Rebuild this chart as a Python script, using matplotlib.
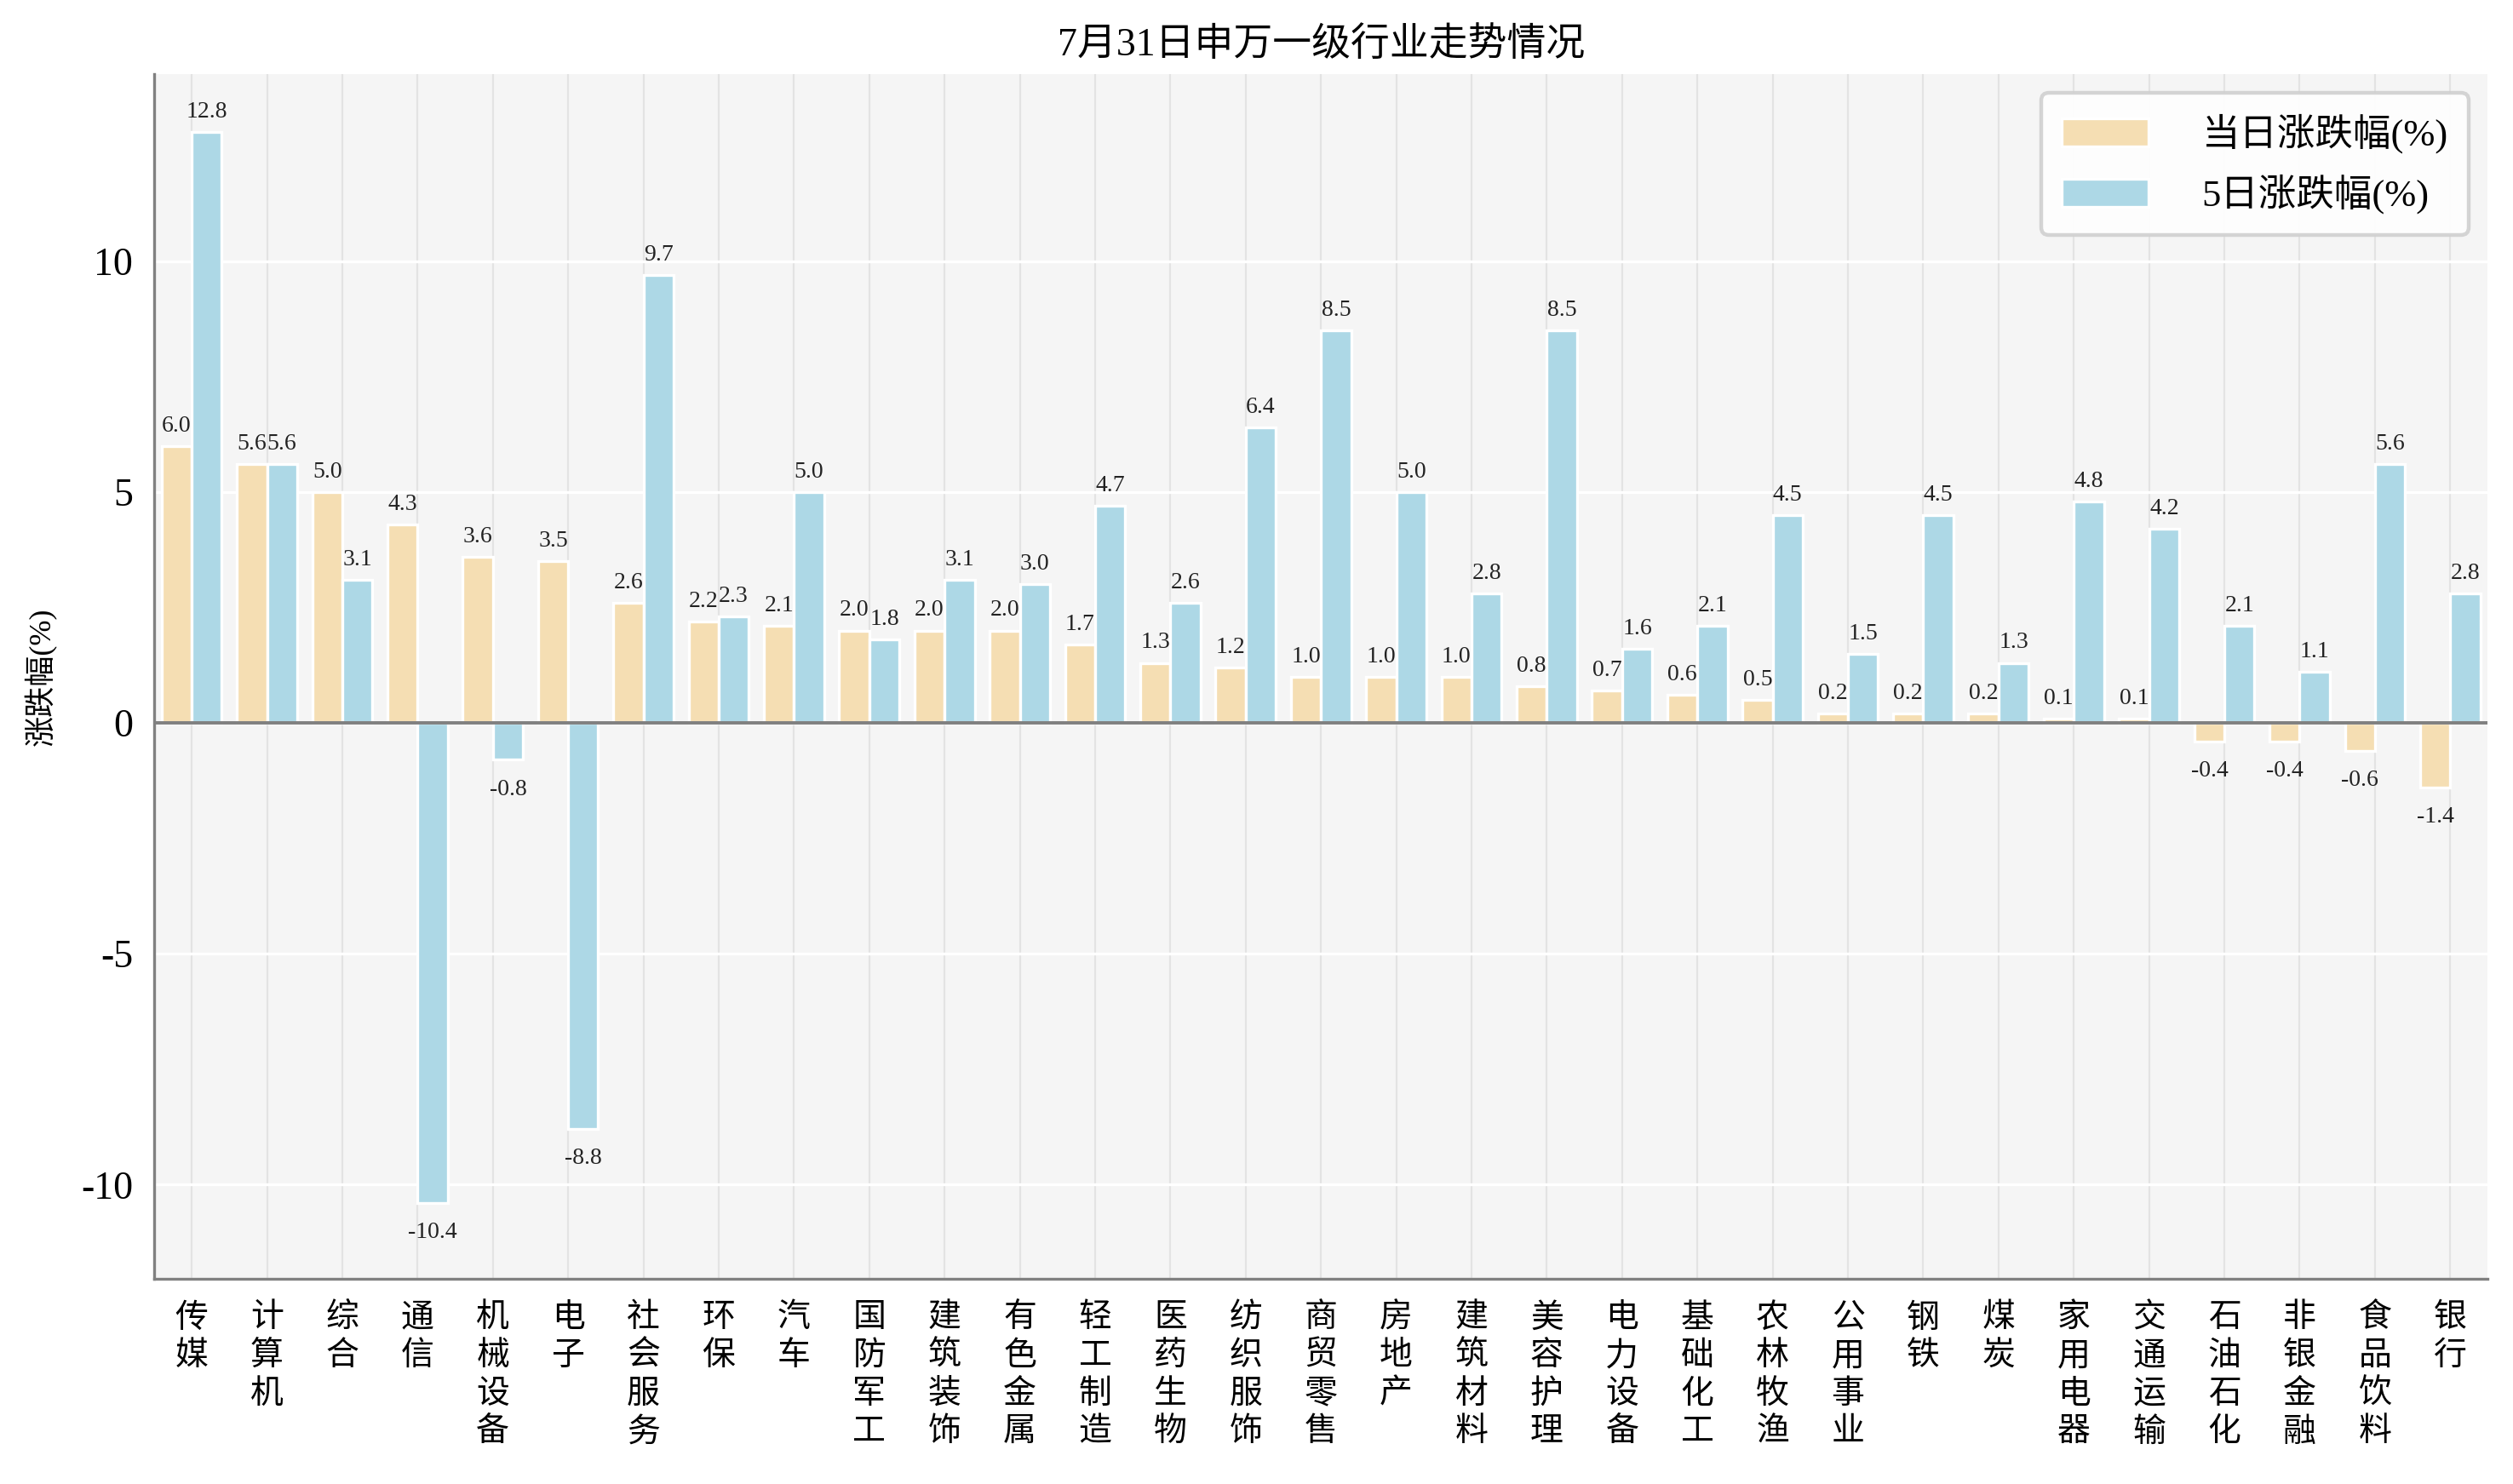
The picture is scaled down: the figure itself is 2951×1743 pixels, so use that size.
import numpy as np
import matplotlib
matplotlib.use('Agg')
from matplotlib import pyplot as plt

plt.rcParams['font.family'] = ['Liberation Serif', 'Noto Sans CJK SC', 'DejaVu Sans']
plt.rcParams['axes.unicode_minus'] = False

industries = ['传媒', '计算机', '综合', '通信', '机械设备', '电子', '社会服务', '环保', '汽车',
              '国防军工', '建筑装饰', '有色金属', '轻工制造', '医药生物', '纺织服饰', '商贸零售',
              '房地产', '建筑材料', '美容护理', '电力设备', '基础化工', '农林牧渔', '公用事业',
              '钢铁', '煤炭', '家用电器', '交通运输', '石油石化', '非银金融', '食品饮料', '银行']
dayChg = [6.0, 5.6, 5.0, 4.3, 3.6, 3.5, 2.6, 2.2, 2.1, 2.0, 2.0, 2.0, 1.7, 1.3, 1.2, 1.0,
          1.0, 1.0, 0.8, 0.7, 0.6, 0.5, 0.2, 0.2, 0.2, 0.1, 0.1, -0.4, -0.4, -0.6, -1.4]
fiveDayChg = [12.8, 5.6, 3.1, -10.4, -0.8, -8.8, 9.7, 2.3, 5.0, 1.8, 3.1, 3.0, 4.7, 2.6, 6.4, 8.5,
              5.0, 2.8, 8.5, 1.6, 2.1, 4.5, 1.5, 4.5, 1.3, 4.8, 4.2, 2.1, 1.1, 5.6, 2.8]
seriesNames = ['当日涨跌幅(%)', '5日涨跌幅(%)']


def labelBars(ax, bars, vals):
    for b, v in zip(bars, vals):
        cx = b.get_x() + b.get_width() / 2
        if v >= 0:
            ax.annotate('%.1f' % v, (cx, v), xytext=(0, 4), textcoords='offset points',
                        ha='center', va='bottom', fontsize=10, color='#222222')
        else:
            ax.annotate('%.1f' % v, (cx, v), xytext=(0, -8), textcoords='offset points',
                        ha='center', va='top', fontsize=10, color='#222222')


fig, ax = plt.subplots(figsize=(14.755, 8.715), dpi=200)
fig.subplots_adjust(left=0.0613, right=0.990, top=0.950, bottom=0.138)

ax.set_facecolor('#f5f5f5')
x = np.arange(len(industries))
w = 0.4
b1 = ax.bar(x - w / 2, dayChg, w, color='#f5deb3', edgecolor='white', linewidth=1.2,
            label=seriesNames[0], zorder=3)
b2 = ax.bar(x + w / 2, fiveDayChg, w, color='#add8e6', edgecolor='white', linewidth=1.2,
            label=seriesNames[1], zorder=3)
labelBars(ax, b1, dayChg)
labelBars(ax, b2, fiveDayChg)

ax.axhline(0, color='#808080', lw=1.4, zorder=4)

ax.set_xlim(-0.5, len(industries) - 0.5)
ax.set_ylim(-12.05, 14.05)
ax.set_yticks([-10, -5, 0, 5, 10])
ax.set_xticks(x)
ax.set_xticklabels(['\n'.join(n) for n in industries], fontsize=14, linespacing=1.15,
                   family=['Noto Sans CJK SC'])
ax.tick_params(axis='both', length=0, pad=9)
ax.tick_params(axis='y', labelsize=16.5)

ax.grid(axis='y', color='white', lw=1.2, zorder=1)
ax.grid(axis='x', color='#e3e3e3', lw=0.8, zorder=1)
ax.set_axisbelow(True)

for s in ['top', 'right']:
    ax.spines[s].set_visible(False)
for s in ['left', 'bottom']:
    ax.spines[s].set_color('#808080')
    ax.spines[s].set_linewidth(1.2)

ax.set_ylabel('涨跌幅(%)', fontsize=13, labelpad=10)
ax.set_title('7月31日申万一级行业走势情况', fontsize=16.5, pad=8)

leg = ax.legend(loc='upper right', fontsize=16, handlelength=2.3, handleheight=0.75,
                handletextpad=1.4, borderpad=0.55, labelspacing=0.55,
                frameon=True, fancybox=True, edgecolor='#d0d0d0', facecolor='white',
                framealpha=0.9, borderaxespad=0.5)
leg.get_frame().set_linewidth(1.6)

fig.savefig('out.png', dpi=200)
